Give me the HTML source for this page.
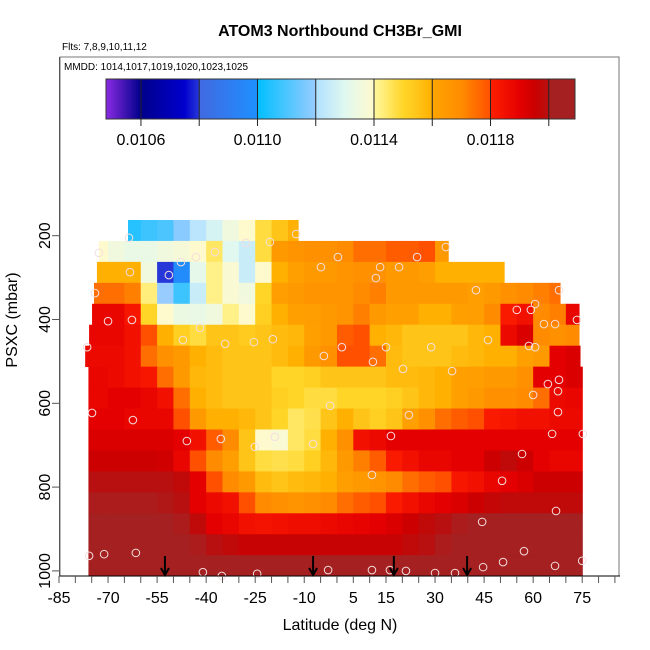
<!DOCTYPE html>
<html><head><meta charset="utf-8"><style>
html,body{margin:0;padding:0;background:#fff;}
svg{display:block;font-family:"Liberation Sans",Arial,sans-serif;}
</style></head><body>
<svg id="chart" width="650" height="650" viewBox="0 0 650 650" xmlns="http://www.w3.org/2000/svg">
<text x="340" y="36" text-anchor="middle" font-size="16" font-weight="bold">ATOM3 Northbound CH3Br_GMI</text>
<text x="62" y="50" font-size="10">Flts: 7,8,9,10,11,12</text>
<g id="heat"></g>
<g id="pts"></g>
<g id="arrows"></g>
<rect x="60" y="57" width="559" height="519" fill="none" stroke="#777" stroke-width="1"/>
<text x="64" y="70" font-size="10">MMDD: 1014,1017,1019,1020,1023,1025</text>
<g id="cbar"></g>
<g id="xaxis"></g>
<g id="yaxis"></g>
<text x="340" y="630" text-anchor="middle" font-size="16">Latitude (deg N)</text>
<text transform="translate(17,320) rotate(-90)" text-anchor="middle" font-size="16">PSXC (mbar)</text>
</svg>
<script>
// ---- data ----
var binStartLat = -80, binWidth = 5;
var rowTopP = [162.5,212.5,262.5,312.5,362.5,412.5,462.5,512.5,562.5,612.5,662.5,712.5,762.5,812.5,862.5,912.5,962.5];
var rowLatStart = [-63.9,-72.8,-73.4,-74.3,-74.9,-75.8,-77,-76,-76,-76,-76,-76,-76,-76,-76,-76,-76];
var rowLatEnd = [-11.9,34,51.1,68.2,74,74,74.3,75,75,75,75,75,75,75,75,75,75];
var row0 = [null,null,null,0.01105,0.01108,0.0111,0.01118,0.01122,0.01128,0.01135,0.0114,0.01148,0.01155,0.0116];
var row1 = [null,0.0114,0.01135,0.01133,0.01133,0.01135,0.01137,0.0114,0.01145,0.0113,0.01125,0.01148,0.01165,0.01167,0.01168,0.01168,0.0117,0.01175,0.01175,0.01178,0.01178,0.0118,0.01165];
var row2 = [null,0.0116,0.0116,0.0116,0.01135,0.0108,0.01098,0.01132,0.01142,0.01138,0.01125,0.0114,0.0116,0.01162,0.01165,0.01165,0.01167,0.01168,0.01168,0.01165,0.01165,0.01163,0.0116,0.0116,0.0116,0.0116,0.0116];
var row3 = [null,0.01175,0.01175,0.01172,0.01143,0.0112,0.01108,0.01125,0.01142,0.01138,0.01135,0.0115,0.01163,0.01165,0.01167,0.01167,0.01167,0.0117,0.01172,0.01165,0.01165,0.01165,0.01165,0.01165,0.01163,0.01165,0.01168,0.0117,0.01172,0.01175];
var row4 = [null,0.01188,0.01188,0.01183,0.0115,0.0114,0.01134,0.01133,0.01135,0.01142,0.0114,0.01152,0.0116,0.01162,0.01163,0.01165,0.01167,0.01172,0.01165,0.01162,0.01162,0.0116,0.0116,0.01162,0.01163,0.0117,0.01182,0.01185,0.0117,0.01172,0.01188];
var row5 = [0.01188,0.01188,0.01188,0.01185,0.0118,0.0116,0.01152,0.01148,0.01155,0.01155,0.01153,0.01155,0.01157,0.01158,0.01162,0.01165,0.01178,0.0118,0.0116,0.01158,0.01155,0.01155,0.01155,0.01155,0.01158,0.0116,0.01187,0.01192,0.0117,0.01168,0.0117];
var row6 = [0.01187,0.01187,0.01187,0.01185,0.01175,0.01168,0.01165,0.0116,0.01157,0.01155,0.01155,0.01155,0.01157,0.0116,0.01165,0.01168,0.0118,0.0118,0.01175,0.01157,0.01155,0.01155,0.01155,0.01157,0.01158,0.0116,0.0116,0.01162,0.01165,0.0119,0.01192];
var row7 = [0.01188,0.01188,0.01187,0.01185,0.01183,0.01175,0.01165,0.01158,0.01157,0.01155,0.01155,0.01155,0.0115,0.0115,0.01152,0.01155,0.01155,0.01155,0.01155,0.01157,0.01157,0.01158,0.0116,0.01162,0.01163,0.01165,0.01165,0.01168,0.0119,0.0119,0.01192];
var row8 = [0.01188,0.01188,0.0119,0.0119,0.01188,0.01185,0.01175,0.0116,0.01157,0.01155,0.01155,0.01155,0.01152,0.0115,0.01148,0.01148,0.0115,0.0115,0.0115,0.01152,0.01155,0.01158,0.0116,0.01162,0.01165,0.01168,0.01168,0.0117,0.01175,0.01187,0.01188];
var row9 = [0.0119,0.0119,0.0119,0.01188,0.01188,0.01188,0.0118,0.01165,0.0116,0.0116,0.01158,0.01155,0.0115,0.01145,0.01147,0.01155,0.0116,0.01155,0.01152,0.01155,0.01162,0.01168,0.01175,0.01178,0.0118,0.01182,0.01183,0.01185,0.01185,0.01187,0.01187];
var row10 = [0.01192,0.01192,0.01192,0.01192,0.01192,0.01192,0.0119,0.01185,0.01178,0.0117,0.01155,0.0114,0.01138,0.01145,0.01148,0.0116,0.01168,0.01185,0.01187,0.0119,0.0119,0.0119,0.0119,0.0119,0.0119,0.0119,0.0119,0.0119,0.0119,0.0119,0.0119];
var row11 = [0.01195,0.01195,0.01195,0.01195,0.01195,0.01194,0.01188,0.0118,0.0117,0.01163,0.01155,0.01148,0.01147,0.01148,0.01152,0.01158,0.01165,0.01172,0.01178,0.01182,0.01185,0.01188,0.01188,0.0119,0.0119,0.01195,0.01198,0.01195,0.0119,0.01188,0.01188];
var row12 = [0.012,0.012,0.012,0.012,0.012,0.012,0.01198,0.0119,0.0118,0.0117,0.01165,0.01157,0.01155,0.01157,0.01158,0.0116,0.01163,0.01165,0.01167,0.0117,0.01175,0.01178,0.0118,0.01183,0.01185,0.01188,0.0119,0.01192,0.01195,0.01195,0.01195];
var row13 = [0.01203,0.01203,0.01203,0.01203,0.01203,0.01202,0.012,0.0119,0.01187,0.01185,0.0118,0.0117,0.01168,0.01167,0.01168,0.0117,0.01175,0.01178,0.0118,0.01182,0.01185,0.01188,0.0119,0.01192,0.01195,0.01197,0.01198,0.01198,0.01198,0.01198,0.01198];
var row14 = [0.01205,0.01205,0.01205,0.01205,0.01205,0.01205,0.01203,0.01198,0.0119,0.01188,0.01185,0.01184,0.01185,0.01186,0.01186,0.01187,0.01188,0.01189,0.0119,0.01192,0.01195,0.01198,0.012,0.01203,0.01205,0.01205,0.01205,0.01205,0.01205,0.01205,0.01205];
var row15 = [0.01205,0.01205,0.01205,0.01205,0.01205,0.01205,0.01205,0.01203,0.012,0.01198,0.01196,0.01196,0.01196,0.01196,0.01196,0.01196,0.01196,0.01196,0.01196,0.01196,0.01198,0.012,0.01203,0.01205,0.01205,0.01205,0.01205,0.01205,0.01205,0.01205,0.01205];
var row16 = [0.01205,0.01205,0.01205,0.01205,0.01205,0.01205,0.01205,0.01205,0.01205,0.01205,0.01205,0.01205,0.01205,0.01205,0.01205,0.01205,0.01205,0.01205,0.01205,0.01205,0.01205,0.01205,0.01205,0.01205,0.01205,0.01205,0.01205,0.01205,0.01205,0.01205,0.01205];
var rows = [row0,row1,row2,row3,row4,row5,row6,row7,row8,row9,row10,row11,row12,row13,row14,row15,row16];
var obsLat = [-63.6,-12.5,-27.8,-20.5,-72.8,-37.3,-43.1,-47.7,0.3,24.5,33.3,-63.3,-51.4,-4.9,13.2,19,11.9,-74,42.5,67.9,-70,-62.7,55,59.3,60.6,73.4,63.3,66.7,-41.9,-47.1,-34.2,-25.4,-19.6,46.2,-76.4,1.5,15,28.8,58.7,60.6,-4,11,20.2,35.2,64.5,67.9,60,67.6,-2.1,-74.9,-62.4,22,67.6,-45.9,-35.5,-25.1,-19,-7.3,16.5,65.8,75.2,56.6,10.7,50.5,67,44.4,-75.8,-71.2,-61.5,57.2,-41,-35.2,-24.4,-2.7,10.7,16.2,21.1,30,36.1,44.7,50.8,66.7,75];
var obsP = [205,196,217,215,241,239,251,263,251,251,227,287,294,275,275,275,301,337,330,330,404,401,377,377,363,401,411,411,420,449,458,454,447,449,466,466,466,466,463,466,487,501,518,523,554,544,580,571,606,623,640,628,621,690,685,704,680,697,678,673,673,721,771,785,857,883,964,960,957,953,1003,1012,1007,998,998,998,1000,1005,1005,991,979,988,976];
var arrowLat = [-52.6,-7.3,17.4,39.8];
var xTickLabels = [-85,-70,-55,-40,-25,-10,5,15,30,45,60,75];
var yTickLabels = [200,400,600,800,1000];
var cbarTickLabels = [0.0106,0.0110,0.0114,0.0118];
var cbarDivs = [0.0106,0.0108,0.0110,0.0112,0.0114,0.0116,0.0118,0.0120];

// ---- scales ----
function xs(lat){return 59+(lat+85)*3.27;}
function yp(p){return 235.7+(p-200)*0.419;}
var cbMin=0.01048,cbMax=0.01209,cbX0=106,cbX1=575;
function xc(v){return cbX0+(v-cbMin)/(cbMax-cbMin)*(cbX1-cbX0);}
var stops=[[0.01048,'#8a2be2'],[0.0106,'#00008b'],[0.01075,'#0000cd'],[0.0108,'#2838d8'],[0.01080001,'#4169e1'],[0.0110,'#1e90ff'],[0.01100001,'#00bfff'],[0.0112,'#98ccff'],[0.01120001,'#b0e0ff'],[0.0113,'#e0f8f0'],[0.0114,'#fffacd'],[0.01140001,'#fff8a0'],[0.0115,'#ffd628'],[0.01155,'#ffc418'],[0.0116,'#ffb000'],[0.01160001,'#ffa500'],[0.0117,'#ff8c00'],[0.0118,'#ff5000'],[0.01180001,'#ff2000'],[0.0119,'#e40000'],[0.01195,'#cc0000'],[0.0120,'#b81010'],[0.01203,'#ac1c1c'],[0.01205,'#a52020'],[0.0125,'#a52020']];
function hex(h){return [parseInt(h.substr(1,2),16),parseInt(h.substr(3,2),16),parseInt(h.substr(5,2),16)];}
function color(v){
  if(v<=stops[0][0]) return stops[0][1];
  for(var i=1;i<stops.length;i++){
    if(v<=stops[i][0]){
      var a=hex(stops[i-1][1]),b=hex(stops[i][1]);
      var t=(v-stops[i-1][0])/(stops[i][0]-stops[i-1][0]);
      return 'rgb('+Math.round(a[0]+(b[0]-a[0])*t)+','+Math.round(a[1]+(b[1]-a[1])*t)+','+Math.round(a[2]+(b[2]-a[2])*t)+')';
    }
  }
  return stops[stops.length-1][1];
}
function cbColor(v){ return v>0.0120 ? '#a52020' : color(Math.min(v,0.0120)); }
var NS='http://www.w3.org/2000/svg';
function mk(tag,attrs,parent){var e=document.createElementNS(NS,tag);for(var k in attrs)e.setAttribute(k,attrs[k]);parent.appendChild(e);return e;}

// ---- heatmap ----
var heat=document.getElementById('heat');
rows.forEach(function(vals,r){
  var y0=yp(rowTopP[r]),y1=yp(rowTopP[r]+50);
  vals.forEach(function(v,i){
    if(v===null||v===undefined) return;
    var lo=Math.max(binStartLat+i*binWidth,rowLatStart[r]);
    var hi=Math.min(binStartLat+(i+1)*binWidth,rowLatEnd[r]);
    if(hi<=lo) return;
    var rc=mk('rect',{x:xs(lo),y:y0,width:xs(hi)-xs(lo)+0.6,height:y1-y0+0.4,fill:color(v)},heat);
    
    
  });
});

// ---- observation points ----
var pts=document.getElementById('pts');
obsLat.forEach(function(lat,i){
  var c=mk('circle',{cx:xs(lat),cy:yp(obsP[i]),r:3.8,fill:'none',stroke:'#f4dede','stroke-width':1},pts);
  
  
});

// ---- arrows ----
var arr=document.getElementById('arrows');
arrowLat.forEach(function(lat){
  var x=xs(lat);
  var g=mk('g',{},arr);
  
  
  mk('line',{x1:x,y1:556,x2:x,y2:575,stroke:'#000','stroke-width':2},g);
  mk('polyline',{points:(x-4)+',568 '+x+',575 '+(x+4)+',568',fill:'none',stroke:'#000','stroke-width':2},g);
});

// ---- colorbar ----
var cb=document.getElementById('cbar');
for(var px=cbX0;px<cbX1;px+=1){
  var v=cbMin+(px+0.5-cbX0)/(cbX1-cbX0)*(cbMax-cbMin);
  mk('rect',{x:px,y:79,width:1.2,height:40,fill:cbColor(v)},cb);
}
var cbf=mk('rect',{x:cbX0,y:79,width:cbX1-cbX0,height:40,fill:'none',stroke:'#333','stroke-width':1},cb);


cbarDivs.forEach(function(v){
  mk('line',{x1:xc(v),y1:79,x2:xc(v),y2:126,stroke:'#222','stroke-width':1},cb);
});
cbarTickLabels.forEach(function(v){
  var t=mk('text',{x:xc(v),y:145,'text-anchor':'middle','font-size':16},cb);
  t.textContent=v.toFixed(4);
  
  
});

// ---- axes ----
var xa=document.getElementById('xaxis');
mk('line',{x1:59,y1:576,x2:620,y2:576,stroke:'#000','stroke-width':1},xa);
for(var lat=-85;lat<=85;lat+=5){
  mk('line',{x1:xs(lat),y1:576,x2:xs(lat),y2:583,stroke:'#555','stroke-width':1},xa);
}
xTickLabels.forEach(function(l){
  var t=mk('text',{x:xs(l),y:603,'text-anchor':'middle','font-size':16},xa);
  t.textContent=l;
  
  
});
var ya=document.getElementById('yaxis');
mk('line',{x1:59.5,y1:57,x2:59.5,y2:576,stroke:'#555','stroke-width':1},ya);
yTickLabels.forEach(function(p){
  var y=yp(p);
  mk('line',{x1:52,y1:y,x2:59,y2:y,stroke:'#555','stroke-width':1},ya);
  var t=mk('text',{transform:'translate(50,'+y+') rotate(-90)','text-anchor':'middle','font-size':16},ya);
  t.textContent=p;
  
  
});
</script>
</body></html>
